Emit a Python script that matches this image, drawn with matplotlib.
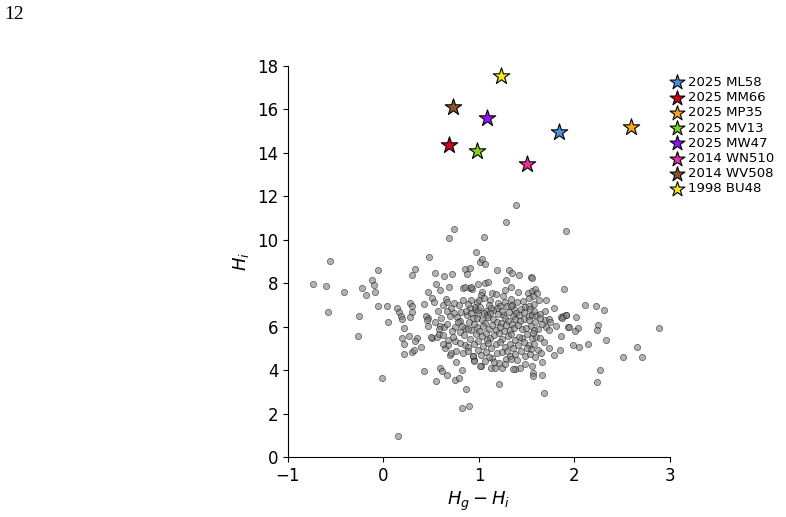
import matplotlib.pyplot as plt

# background population: (Hg - Hi, Hi)
pop_x = [
    -0.557, -0.054, -0.738, -0.60, -0.417, -0.228, -0.124, -0.103, -0.183, -0.089,
    -0.578, -0.26, -0.058, 0.04, 0.05, -0.27, -0.013, 0.152,
    0.686, 0.74, 0.97, 0.48, 0.33, 0.295, 0.54, 0.63, 0.72, 0.85, 0.91, 0.87, 1.01,
    0.55, 0.59, 0.69, 0.47, 0.83, 0.91, 0.505, 0.526, 0.42, 0.28, 0.295, 0.30,
    0.14, 0.165, 0.18, 0.19, 0.28, 0.22, 0.19, 0.27, 0.35, 0.33, 0.21, 0.215,
    0.30, 0.32, 0.39, 0.42, 0.55, 0.59, 0.615, 0.665, 0.745, 0.795, 0.825, 0.86,
    0.82, 0.895,
    1.03, 1.06, 1.185, 1.31, 1.345, 1.42, 1.28, 1.545, 1.55, 0.99, 1.06, 1.09,
    0.93, 1.03, 1.02, 1.14, 1.18, 1.27, 1.33, 1.25, 1.41, 1.51, 1.55, 1.59, 1.61,
    1.57, 1.52, 1.705, 1.89, 0.98, 1.0, 0.96, 0.99, 1.07, 1.055, 1.195, 1.19, 1.15,
    1.27, 1.29, 1.255, 1.37, 1.39, 1.36, 1.44, 1.48, 1.42, 1.47, 1.52, 1.56, 1.60,
    1.69, 1.785, 1.69, 1.73, 1.745, 1.70, 1.73, 1.62, 1.805, 1.855, 1.88, 1.91,
    1.93, 1.855, 1.45, 1.45, 1.42, 1.55, 1.60, 1.64, 1.68, 1.52, 1.545, 1.62, 1.65,
    1.73, 1.785, 1.845, 1.59, 1.66, 1.56, 1.565, 1.57, 1.66, 1.485, 1.43, 1.38,
    1.36, 1.68, 1.21, 1.02, 1.125, 1.17, 1.24, 1.205, 1.285, 1.325, 1.33, 0.95,
    0.94, 1.02, 1.14, 1.185, 1.24,
    1.387, 1.28, 1.05, 1.915, 2.11, 2.23, 2.31, 2.02, 1.945, 2.04, 2.01, 2.25, 2.24,
    2.89, 1.91, 1.87, 2.145, 2.05, 1.98, 2.33, 2.65, 2.71, 2.51, 2.27, 2.24,
    0.51, 0.56, 0.58, 0.644, 0.68, 0.70, 0.71, 0.756, 0.756, 0.75, 0.83, 0.857,
    0.934, 0.95, 1.01,
    0.65, 0.62, 0.67, 0.71, 0.735, 0.70, 0.66, 0.79, 0.815, 0.77, 0.75, 0.60, 0.59,
    0.63, 0.665, 0.62, 0.50, 0.47, 0.47, 0.44, 0.46, 0.853, 0.915, 0.96, 0.905,
    0.87, 0.94, 0.99, 0.83, 0.92, 0.85, 0.92, 0.975, 0.80, 0.73,
    1.05, 1.12, 1.34, 1.40, 1.46, 1.58, 1.63, 0.88, 1.10, 1.22, 1.52, 1.35,
    0.86, 0.92, 1.01, 1.08, 1.13, 1.24, 1.31, 1.33, 1.47, 1.53, 1.58, 1.64, 1.12, 1.20,
    0.80, 0.90, 0.98, 1.03, 1.09, 1.15, 1.19, 1.27, 1.30, 1.38, 1.43, 1.52, 1.59,
    1.64, 1.06, 1.23, 1.35,
    0.82, 0.88, 0.95, 1.00, 1.04, 1.10, 1.14, 1.18, 1.22, 1.28, 1.32, 1.37, 1.41,
    1.49, 1.54, 1.58, 1.66, 1.26,
    0.84, 0.91, 0.97, 1.03, 1.07, 1.12, 1.16, 1.21, 1.24, 1.30, 1.34, 1.38, 1.50,
    1.57, 1.08, 0.99,
    0.80, 0.89, 0.95, 1.04, 1.09, 1.13, 1.18, 1.22, 1.27, 1.32, 1.36, 1.41, 1.47,
    1.50, 1.58,
    0.88, 0.99, 1.07, 1.10, 1.29, 1.38, 1.44, 1.48, 1.53,
    1.06, 1.16, 1.40, 1.27,
    0.74, 0.78, 0.72, 0.68, 0.62, 0.57, 0.54, 0.58,
]
pop_y = [
    9.04, 8.61, 7.98, 7.89, 7.61, 7.78, 8.16, 7.90, 7.44, 7.61,
    6.68, 6.51, 6.94, 6.97, 6.22, 5.57, 3.65, 0.97,
    10.08, 10.51, 9.45, 9.21, 8.67, 8.38, 8.49, 8.35, 8.44, 8.64, 8.69, 8.43, 8.99,
    7.95, 7.67, 7.81, 7.61, 7.78, 7.79, 7.31, 7.15, 7.03, 7.09, 6.95, 6.69,
    6.85, 6.69, 6.49, 6.37, 6.45, 5.92, 5.49, 5.57, 5.49, 5.34, 5.19, 4.76,
    4.85, 4.93, 5.08, 3.97, 3.48, 4.08, 3.96, 3.79, 3.56, 3.65, 4.0, 3.15,
    2.27, 2.33,
    9.10, 8.87, 8.60, 8.61, 8.49, 8.39, 8.15, 8.27, 8.22, 7.98, 8.03, 8.06,
    7.75, 7.61, 7.46, 7.56, 7.49, 7.67, 7.84, 7.43, 7.60, 7.56, 7.66, 7.72, 7.56,
    7.41, 7.31, 7.24, 7.73, 7.12, 7.24, 6.83, 6.58, 6.74, 6.62, 7.08, 6.86, 6.77,
    7.14, 6.94, 6.55, 6.81, 6.63, 6.48, 6.83, 6.91, 6.54, 6.34, 6.49, 6.52, 6.54,
    6.72, 6.86, 6.31, 6.35, 6.20, 5.99, 5.85, 5.88, 6.03, 6.43, 6.49, 6.54,
    6.0, 5.59, 5.89, 5.47, 5.54, 5.49, 5.51, 5.48, 5.31, 5.14, 4.97, 4.93, 4.80,
    5.0, 4.70, 4.93, 4.59, 4.37, 4.20, 3.88, 3.73, 3.79, 4.30, 4.08, 4.07,
    4.04, 2.95, 3.36, 4.20, 4.08, 4.11, 4.11, 4.31, 4.50, 4.66, 4.53, 4.45,
    4.66, 4.70, 4.56, 4.77, 4.82,
    11.6, 10.82, 10.14, 10.42, 6.98, 6.95, 6.75, 6.45, 5.99, 5.95, 5.80, 6.08, 5.85,
    5.94, 6.52, 6.39, 5.19, 5.05, 5.16, 5.37, 5.05, 4.59, 4.59, 3.99, 3.44,
    5.48, 5.51, 5.65, 5.0, 5.16, 4.70, 4.80, 4.88, 4.39, 5.34, 4.77, 5.17,
    4.65, 4.42, 4.20,
    7.27, 6.98, 7.12, 6.85, 6.62, 6.51, 6.74, 7.0, 6.69, 6.46, 5.99, 6.40, 6.02,
    6.0, 6.11, 5.62, 5.52, 6.03, 6.41, 6.49, 6.31, 7.84, 7.84, 6.89, 6.85,
    6.54, 6.39, 6.77, 7.23, 7.23, 5.93, 5.85, 6.0, 5.77, 5.54,
    7.32, 7.21, 7.27, 7.12, 7.18, 7.05, 7.22, 7.05, 6.98, 6.95, 6.97, 7.02,
    6.72, 6.64, 6.90, 6.55, 6.88, 6.71, 6.66, 6.93, 6.68, 6.80, 6.70, 6.60, 6.62, 6.58,
    6.28, 6.22, 6.41, 6.30, 6.45, 6.36, 6.23, 6.42, 6.28, 6.36, 6.24, 6.30, 6.20,
    6.38, 6.18, 6.15, 6.12,
    6.05, 5.88, 6.12, 5.82, 6.02, 5.90, 6.08, 5.84, 5.98, 6.06, 5.86, 5.95, 6.07,
    5.96, 6.04, 5.83, 6.10, 5.80,
    5.60, 5.45, 5.68, 5.55, 5.72, 5.48, 5.62, 5.70, 5.42, 5.58, 5.68, 5.40, 5.66,
    5.70, 5.38, 5.36,
    5.25, 5.08, 5.22, 5.12, 5.27, 5.02, 5.18, 5.30, 5.08, 5.21, 5.00, 5.16, 5.28,
    5.04, 5.22,
    4.86, 4.92, 4.82, 4.62, 4.88, 4.74, 4.90, 4.64, 4.76,
    4.40, 4.35, 4.45, 4.28,
    7.10, 6.22, 5.78, 5.40, 5.22, 6.70, 6.22, 5.90,
]

# highlighted objects
names = ['2025 ML58', '2025 MM66', '2025 MP35', '2025 MV13',
         '2025 MW47', '2014 WN510', '2014 WV508', '1998 BU48']
obj_x = [1.84, 0.686, 2.59, 0.98, 1.08, 1.50, 0.73, 1.23]
obj_y = [14.96, 14.36, 15.19, 14.09, 15.61, 13.49, 16.11, 17.54]
colors = ['#4A90E2', '#D0021B', '#F5A623', '#7ED321',
          '#9013FE', '#E8319A', '#8B572A', '#F8E71C']

fig = plt.figure(figsize=(7.86, 5.17), dpi=100)
ax = fig.add_axes([0.3664, 0.1161, 0.486, 0.7562])

ax.scatter(pop_x, pop_y, s=20, c='gray', alpha=0.6, edgecolors='k', linewidths=0.5)
for name, x, y, c in zip(names, obj_x, obj_y, colors):
    ax.scatter(x, y, s=155, marker='*', c=c, edgecolors='k', linewidths=0.8,
               label=name, zorder=3)

ax.set_xlim(-1, 3)
ax.set_ylim(0, 18)
ax.set_xticks([-1, 0, 1, 2, 3])
ax.set_yticks(range(0, 19, 2))
ax.tick_params(labelsize=12)
ax.spines['top'].set_visible(False)
ax.spines['right'].set_visible(False)
ax.set_xlabel('$H_g - H_i$', fontsize=13)
ax.set_ylabel('$H_i$', fontsize=13)

ax.legend(loc='upper left', bbox_to_anchor=(1.0, 0.975), frameon=False,
          fontsize=9.5, handletextpad=0.35, labelspacing=0.17, borderaxespad=0,
          handlelength=1.0, borderpad=0, markerscale=0.9)

fig.text(0.006, 0.972, '12', family='Liberation Serif', fontsize=14, va='center')

fig.savefig('out.png', dpi=100)
